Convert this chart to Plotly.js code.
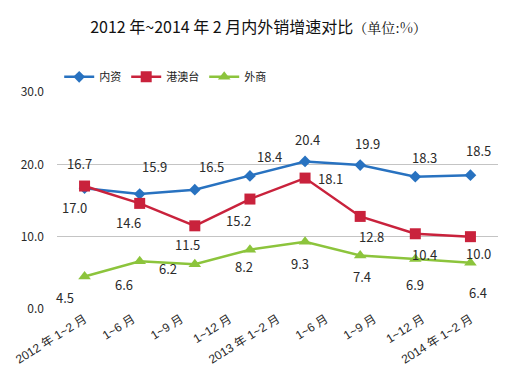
<!DOCTYPE html>
<html>
<head>
<meta charset="utf-8">
<script src="https://cdn.plot.ly/plotly-3.0.1.min.js"></script>
<style>html,body{margin:0;padding:0;background:#fff;}#chart{width:517px;height:377px;}</style>
</head>
<body>
<div id="chart"></div>
<script>
var neizi = [16.7, 15.9, 16.5, 18.4, 20.4, 19.9, 18.3, 18.5];
var gangaotai = [17.0, 14.6, 11.5, 15.2, 18.1, 12.8, 10.4, 10.0];
var waishang = [4.5, 6.6, 6.2, 8.2, 9.3, 7.4, 6.9, 6.4];
var xLabels = ["2012 年 1~2 月","1~6 月","1~9 月","1~12 月","2013 年 1~2 月","1~6 月","1~9 月","1~12 月","2014 年 1~2 月"];
var yTicks = [0, 10, 20, 30];
var seriesNames = ["内资","港澳台","外商"];

// label offsets (px) relative to each point
var offNeizi = [[-5,25],[15,27],[17,23],[20,19],[2,22],[7,22],[9,19],[8,25]];
var offGang = [[-10,-21],[-11,-19],[-7,-19],[-11,-21],[25,0],[11,-20],[9,-21],[8,-17]];
var offWai = [[-20,-21],[-16,-23],[-27,-4],[-6,-17],[-5,-22],[2,-21],[0,-25],[8,-30]];

var xIdx = neizi.map(function(_, i){ return i; });
var nPts = xIdx.length;
// 9 category labels spread evenly across the 8 point positions
var tickPos = xLabels.map(function(_, k){ return k * (nPts - 1) / (xLabels.length - 1); });
var FONT = "Noto Sans CJK SC, Noto Sans, sans-serif";
var TICKFONT = "Liberation Sans, Noto Sans CJK SC, sans-serif";

var traces = [
  {x: xIdx, y: neizi, name: seriesNames[0], mode: "lines+markers", line: {color: "#2872c0", width: 2.5}, marker: {symbol: "diamond", size: 9, color: "#2872c0"}},
  {x: xIdx, y: gangaotai, name: seriesNames[1], mode: "lines+markers", line: {color: "#c9223c", width: 2.5}, marker: {symbol: "square", size: 11, color: "#c9223c"}},
  {x: xIdx, y: waishang, name: seriesNames[2], mode: "lines+markers", line: {color: "#8cc43c", width: 2.5}, marker: {symbol: "triangle-up", size: 11, color: "#8cc43c"}}
];

var annotations = [];
function addLabels(vals, offs) {
  for (var i = 0; i < vals.length; i++) {
    annotations.push({x: xIdx[i], y: vals[i], xref: "x", yref: "y", text: vals[i].toFixed(1), showarrow: false,
      xshift: offs[i][0], yshift: offs[i][1], font: {family: FONT, size: 13, color: "#2a2a2a"}});
  }
}
addLabels(neizi, offNeizi);
addLabels(gangaotai, offGang);
addLabels(waishang, offWai);

var layout = {
  width: 517, height: 377,
  margin: {l: 57, r: 19, t: 92, b: 68},
  paper_bgcolor: "#fff", plot_bgcolor: "#fff",
  font: {family: FONT, color: "#2a2a2a"},
  title: {text: "2012 年~2014 年 2 月内外销增速对比<span style=\"font-family:Noto Serif CJK SC, DejaVu Serif, serif;font-size:14px;\">（单位:%）</span>", x: 0.5, xanchor: "center", y: 0.928, yanchor: "middle", font: {family: FONT, size: 16, color: "#111"}},
  showlegend: true,
  legend: {orientation: "h", x: 0.005, xanchor: "left", y: 1.07, yanchor: "middle", font: {family: FONT, size: 11, color: "#222"}, itemwidth: 30, tracegroupgap: 0, bgcolor: "rgba(0,0,0,0)"},
  xaxis: {range: [-0.5, 7.5], tickmode: "array", tickvals: tickPos, ticktext: xLabels, tickangle: -32, showgrid: false, zeroline: false, showline: false, ticks: "", tickfont: {family: TICKFONT, size: 12, color: "#2a2a2a"}, fixedrange: true},
  yaxis: {range: [0, 30], tickmode: "array", tickvals: yTicks, ticktext: yTicks.map(function(v){return v.toFixed(1);}), showgrid: true, gridcolor: "#c4c4c4", gridwidth: 1.5, zeroline: false, showline: false, ticks: "", ticklabelstandoff: 12, tickfont: {family: FONT, size: 12, color: "#2a2a2a"}, fixedrange: true},
  annotations: annotations
};

Plotly.newPlot("chart", traces, layout, {displayModeBar: false, staticPlot: true});
</script>
</body>
</html>
